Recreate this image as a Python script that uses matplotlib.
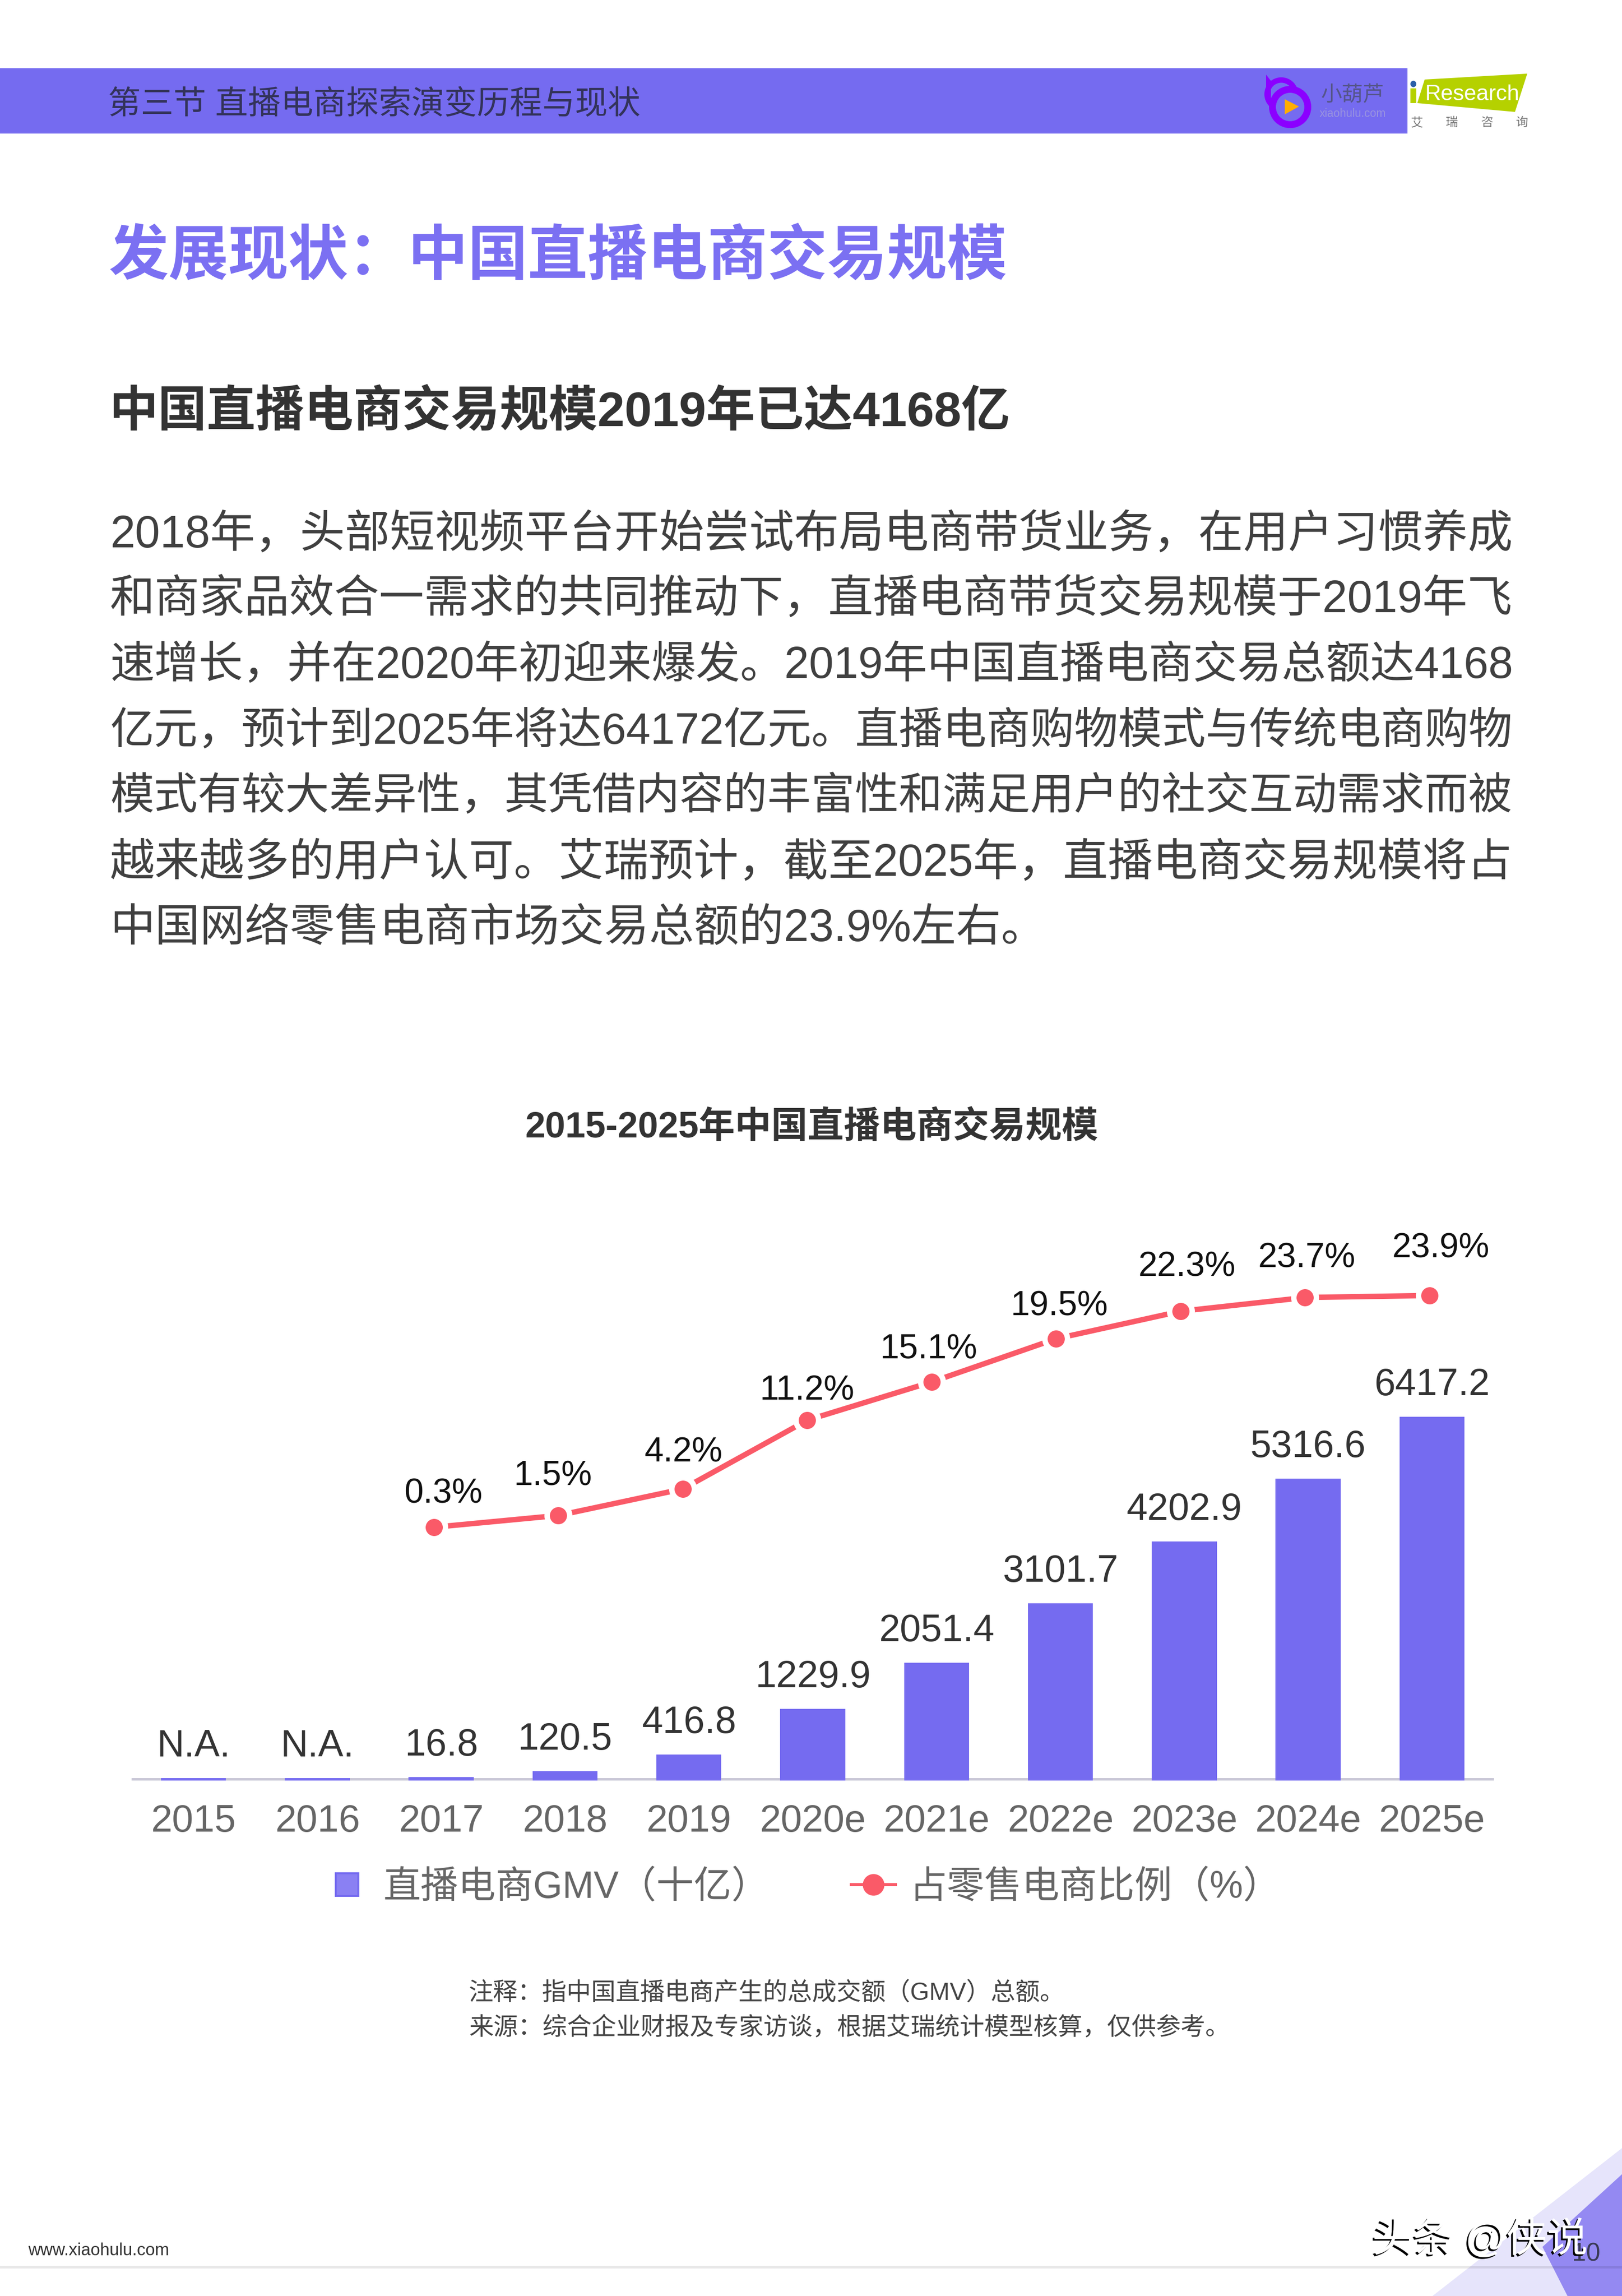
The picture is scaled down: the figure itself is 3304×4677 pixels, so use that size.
import matplotlib
matplotlib.use("Agg")
import matplotlib.pyplot as plt
import matplotlib.patheffects as pe
from matplotlib.lines import Line2D
from matplotlib.patches import Polygon, Rectangle, Ellipse
import numpy as np

plt.rcParams['font.family'] = ['Liberation Sans', 'Noto Sans CJK SC']

years = ['2015', '2016', '2017', '2018', '2019', '2020e', '2021e', '2022e', '2023e', '2024e', '2025e']
gmv = [0, 0, 16.8, 120.5, 416.8, 1229.9, 2051.4, 3101.7, 4202.9, 5316.6, 6417.2]
gmv_labels = ['N.A.', 'N.A.', '16.8', '120.5', '416.8', '1229.9', '2051.4', '3101.7', '4202.9', '5316.6', '6417.2']
share_years = [2, 3, 4, 5, 6, 7, 8, 9, 10]
share = [0.3, 1.5, 4.2, 11.2, 15.1, 19.5, 22.3, 23.7, 23.9]

# full width punctuation
COMMA = '\uff0c'
COLON = '\uff1a'
LP = '\uff08'
RP = '\uff09'

body_lines = [
    '2018年' + COMMA + '头部短视频平台开始尝试布局电商带货业务' + COMMA + '在用户习惯养成',
    '和商家品效合一需求的共同推动下' + COMMA + '直播电商带货交易规模于2019年飞',
    '速增长' + COMMA + '并在2020年初迎来爆发。2019年中国直播电商交易总额达4168',
    '亿元' + COMMA + '预计到2025年将达64172亿元。直播电商购物模式与传统电商购物',
    '模式有较大差异性' + COMMA + '其凭借内容的丰富性和满足用户的社交互动需求而被',
    '越来越多的用户认可。艾瑞预计' + COMMA + '截至2025年' + COMMA + '直播电商交易规模将占',
    '中国网络零售电商市场交易总额的23.9%左右。',
]
body_y = [1090, 1223, 1357, 1491, 1625, 1759, 1893]

W, H = 3305, 4677
PURPLE = '#756BF0'
RED = '#FA5A68'


def pt(px):
    return px * 0.72


fig = plt.figure(figsize=(W / 100, H / 100), dpi=100, facecolor='white')


def axes_px(x0, x1, y_top, y_bottom, **kw):
    return fig.add_axes([x0 / W, 1 - y_bottom / H, (x1 - x0) / W, (y_bottom - y_top) / H], **kw)


# whole page in pixel coordinates
page = axes_px(0, W, 0, H)
page.set_xlim(0, W)
page.set_ylim(H, 0)
page.axis('off')

# header band and logos
page.add_patch(Rectangle((0, 139), 2867, 133, color=PURPLE, lw=0))
page.text(220, 215, '第三节 直播电商探索演变历程与现状', fontsize=pt(66.6), color='#33335A', va='center')

page.add_patch(Polygon([(2579, 152), (2589, 165), (2589, 207), (2579, 200)], color='#8B00FF', lw=0))
page.add_patch(Ellipse((2610, 192), 58, 58, fc='none', ec='#8B00FF', lw=pt(11)))
page.add_patch(Ellipse((2628, 218), 72, 72, fc=PURPLE, ec='#8B00FF', lw=pt(14)))
page.add_patch(Polygon([(2617, 202), (2646, 217), (2617, 233)], color='#FFAE00', lw=0, joinstyle='round'))
page.text(2755, 195, '小葫芦', fontsize=pt(43), color='#55558A', ha='center', va='center')
page.text(2755, 232, 'xiaohulu.com', fontsize=pt(23), color='#9A94E0', ha='center', va='center')

page.add_patch(Polygon([(2902, 162), (3111, 150), (3086, 228), (2887, 210)], color='#B5D100', lw=0))
page.add_patch(Rectangle((2873, 180), 12, 30, color='#B5D100', lw=0))
page.add_patch(Ellipse((2879, 171), 12, 13, color='#2B5FA8', lw=0))
page.text(2902, 192, 'Research', fontsize=pt(45), color='white', va='center')
for cx, ch in zip([2886, 2957, 3029, 3100], '艾瑞咨询'):
    page.text(cx, 250, ch, fontsize=pt(25), color='#777777', ha='center', va='center')

# headings
page.text(222, 526, '发展现状' + COLON + '中国直播电商交易规模', fontsize=pt(122), color='#7B70F2',
          fontweight='bold', va='center')
page.text(222, 841, '中国直播电商交易规模2019年已达4168亿', fontsize=pt(99.5), color='#333333',
          fontweight='bold', va='center')

# body, every full line stretched to the column width
fig.canvas.draw()
renderer = fig.canvas.get_renderer()
for i in range(len(body_lines)):
    t = page.text(224, body_y[i], body_lines[i], fontsize=pt(91.5), color='#404040', va='center')
    if i < len(body_lines) - 1:
        w = t.get_window_extent(renderer).width
        t.set_fontsize(pt(91.5) * 2858 / w)

page.text(1653, 2297, '2015-2025年中国直播电商交易规模', fontsize=pt(74), color='#333333',
          fontweight='bold', ha='center', va='center')

# bars, zero sits at y=3622, the base strip runs down to y=3627
scale = 736 / 6417.2
ax = axes_px(268, 3043, 2400, 3627)
ax.patch.set_alpha(0)
ymin = -5 / scale
ax.set_ylim(ymin, 1222 / scale)
ax.set_xlim(-0.5, 10.5)
x = np.arange(len(years))
ax.axhspan(ymin, 0, color='#C8C6D6', lw=0, zorder=1)
vals = np.array(gmv)
bars = ax.bar(x, vals - ymin, bottom=ymin, width=0.525, color=PURPLE, zorder=2)
for i in range(len(x)):
    ax.annotate(gmv_labels[i], (x[i], gmv[i]), xytext=(0, pt(44)), textcoords='offset points',
                ha='center', va='baseline', fontsize=pt(77), color='#333333')
for s in ax.spines.values():
    s.set_visible(False)
ax.set_yticks([])
ax.set_xticks(x)
ax.set_xticklabels(years, fontsize=pt(78), color='#666666')
ax.tick_params(axis='x', length=0, pad=pt(47))

# share line has its own axes, its points do not quite line up with the bars
lax = axes_px(884 - 2 * 253.5, 2912 + 253.5 / 2, 2400, 3627)
lax.patch.set_alpha(0)
lax.axis('off')
lax.set_xlim(0, (2912 + 253.5 / 2 - 884 + 2 * 253.5) / 253.5)
lax.set_ylim(-(3627 - 3117) / 20, (3117 - 2400) / 20)
lax.plot(share_years, share, color=RED, lw=pt(11), marker='o', ms=pt(35 + 11),
         mfc=RED, mec='white', mew=pt(11), solid_capstyle='butt')
label_dx = [19, -11, 1, 0, -6, 6, 13, 3, 23]
label_dy = [50, 61, 56, 41, 48, 48, 72, 61, 78]
for i in range(len(share)):
    lax.annotate('%.1f%%' % share[i], (share_years[i], share[i]),
                 xytext=(pt(label_dx[i]), pt(label_dy[i])), textcoords='offset points',
                 ha='center', va='baseline', fontsize=pt(70), color='#111111')

# legend
handles = [
    Line2D([], [], ls='none', marker='s', ms=pt(46), mfc='#8A80F3', mec=PURPLE, mew=pt(4)),
    Line2D([], [], color=RED, lw=pt(6), marker='o', ms=pt(44), mfc=RED, mec=RED, mew=0),
]
fs = 76.5
leg = fig.legend(handles, ['直播电商GMV' + LP + '十亿' + RP, '占零售电商比例' + LP + '%' + RP], ncol=2, frameon=False,
                 loc='center left', bbox_to_anchor=(662 / W, 1 - 3845 / H),
                 prop={'size': pt(fs)}, borderpad=0, borderaxespad=0,
                 handlelength=90 / fs, handletextpad=28 / fs, columnspacing=168 / fs)
for txt in leg.get_texts():
    txt.set_color('#666666')

# notes
page.text(955, 4060, '注释' + COLON + '指中国直播电商产生的总成交额' + LP + 'GMV' + RP + '总额。',
          fontsize=pt(50), color='#444444', va='center')
page.text(955, 4131, '来源' + COLON + '综合企业财报及专家访谈' + COMMA + '根据艾瑞统计模型核算' + COMMA + '仅供参考。',
          fontsize=pt(50), color='#444444', va='center')

# footer
page.add_patch(Polygon([(3305, 4375), (3305, 4677), (2918, 4677)], color='#E6E4FB', lw=0))
page.add_patch(Polygon([(3305, 4428), (3305, 4677), (3193, 4677), (3142, 4577)], color='#9489F2', lw=0))
page.add_patch(Rectangle((0, 4616), W, 5, color='black', alpha=0.09, lw=0))
page.text(57, 4585, 'www.xiaohulu.com', fontsize=pt(34.8), color='#333333', va='center')
page.text(3260, 4605, '10', fontsize=pt(52), color='#3A3A55', ha='right', va='baseline')
page.text(2795, 4563, '头条 @侠说', fontsize=pt(83), color='white', va='center',
          path_effects=[pe.withSimplePatchShadow(offset=(-2.5, -2.5), shadow_rgbFace='black', alpha=1)])

fig.savefig('out.png', dpi=100, facecolor='white')
